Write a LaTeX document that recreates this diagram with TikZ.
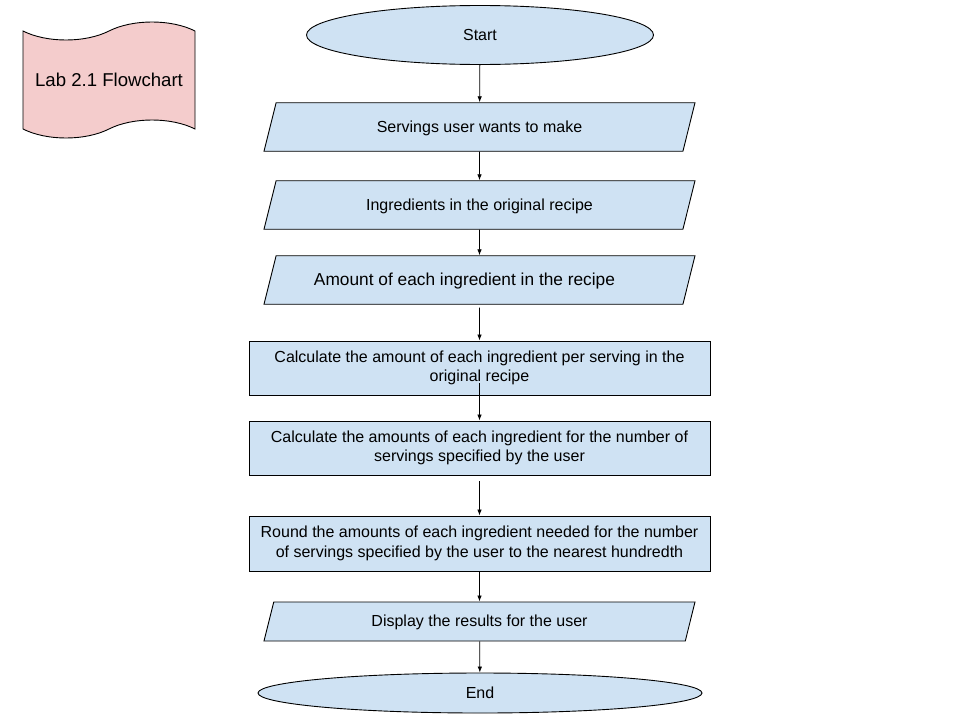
\documentclass[tikz,border=0pt]{standalone}
\usepackage{fontspec}
\setmainfont{Liberation Sans}
\usepackage{tikz}
\usetikzlibrary{arrows.meta,shapes.geometric,shapes.symbols}

\definecolor{boxblue}{RGB}{207,226,243}
\definecolor{titlepink}{RGB}{244,204,204}

\begin{document}
\begin{tikzpicture}[x=1pt,y=-1pt,
  base/.style={draw=black,line width=0.9pt,fill=boxblue,inner sep=2pt,align=center,font=\fontsize{16}{19.5}\selectfont},
  term/.style={base,ellipse},
  io/.style={base,trapezium,trapezium left angle=76,trapezium right angle=104,trapezium stretches body,
    text height=13pt,text depth=3pt,minimum width=431pt},
  proc/.style={base,rectangle,minimum width=461pt},
  flow/.style={-{Latex[length=6pt,width=4.5pt]},line width=0.8pt}]
  \useasboundingbox (0,0) rectangle (960,720);
  \node[base,tape,fill=titlepink,tape bend top=in and out,tape bend bottom=in and out,tape bend height=18pt,
    minimum width=172pt,minimum height=116pt,font=\fontsize{18.6}{22}\selectfont] (title) at (109,80) {Lab 2.1 Flowchart};
  \node[term,minimum width=347pt,minimum height=59pt] (start) at (480,35) {Start};
  \node[io,inner ysep=16.25pt] (servings) at (479.5,127) {Servings user wants to make};
  \node[io,inner ysep=16.25pt] (ingred) at (479.5,205) {Ingredients in the original recipe};
  \node[io,inner ysep=16.25pt,font=\fontsize{17.3}{21}\selectfont] (amount) at (479.5,280) {Amount of each ingredient in the recipe\hspace*{30pt}};
  \node[proc,minimum height=54pt] (perserv) at (479.5,368) {Calculate the amount of each ingredient per serving in the\\original recipe};
  \node[proc,minimum height=54pt] (scale) at (479.5,448) {Calculate the amounts of each ingredient for the number of\\servings specified by the user};
  \node[proc,minimum height=55pt] (round) at (479.5,543.5) {Round the amounts of each ingredient needed for the number\\of servings specified by the user to the nearest hundredth};
  \node[io,inner ysep=11.5pt] (display) at (479.5,621.5) {Display the results for the user};
  \node[term,minimum width=444pt,minimum height=40pt] (end) at (480,693) {End};
  \draw[flow] (start) -- (servings);
  \draw[flow] (servings) -- (ingred);
  \draw[flow] (ingred) -- (amount);
  \draw[flow,shorten <=3pt] (amount) -- (perserv);
  \draw[flow,shorten <=-12pt] (perserv) -- (scale);
  \draw[flow,shorten <=6pt] (scale) -- (round);
  \draw[flow] (round) -- (display);
  \draw[flow] (display) -- (end);
\end{tikzpicture}
\end{document}
